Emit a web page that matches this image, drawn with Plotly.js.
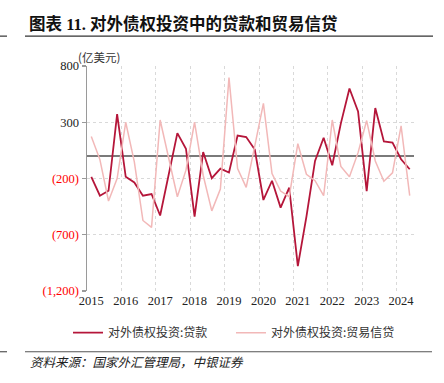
<!DOCTYPE html>
<html>
<head>
<meta charset="utf-8">
<script src="https://cdn.plot.ly/plotly-3.0.1.min.js"></script>
<style>
html,body{margin:0;padding:0;background:#fff;}
#chart{width:444px;height:383px;}
</style>
</head>
<body>
<div id="chart"></div>
<script>
// Quarterly, 2015Q1 - 2024Q2 (亿美元)
const quarters = ["2015Q1","2015Q2","2015Q3","2015Q4","2016Q1","2016Q2","2016Q3","2016Q4",
  "2017Q1","2017Q2","2017Q3","2017Q4","2018Q1","2018Q2","2018Q3","2018Q4",
  "2019Q1","2019Q2","2019Q3","2019Q4","2020Q1","2020Q2","2020Q3","2020Q4",
  "2021Q1","2021Q2","2021Q3","2021Q4","2022Q1","2022Q2","2022Q3","2022Q4",
  "2023Q1","2023Q2","2023Q3","2023Q4","2024Q1","2024Q2"];
const loans = [-185,-353,-309,373,-185,-235,-353,-338,
  -529,-170,203,65,-538,35,-197,-112,
  -147,182,168,58,-391,-220,-459,-282,
  -979,-538,-44,162,-82,290,600,397,
  -312,426,129,120,-29,-118];
const tradeCredit = [173,-32,-400,-200,300,-53,-573,-635,
  320,-20,-362,-126,300,-171,-488,-294,
  697,-112,-279,90,467,-156,-312,-362,
  109,-162,-220,-353,320,-93,-185,30,
  315,-44,-224,-150,268,-353];
const yearLabels = ["2015","2016","2017","2018","2019","2020","2021","2022","2023","2024"];
const yTickVals = [800,300,-200,-700,-1200];
const yTickText = ["800","300","(200)","(700)","(1,200)"];

const xIdx = quarters.map((q,i)=>i);
const yearTickVals = yearLabels.map((y,i)=>i*4);
const yearBounds = yearLabels.map((y,i)=>i*4-0.5).concat([quarters.length-0.5]);

const serif = "Liberation Serif, Noto Sans CJK SC, serif";
const cjk = "Noto Sans CJK SC, Liberation Serif, sans-serif";

const traces = [
  {x:xIdx, y:loans, type:'scatter', mode:'lines', name:'对外债权投资:贷款',
   line:{color:'#B5163A', width:1.8}},
  {x:xIdx, y:tradeCredit, type:'scatter', mode:'lines', name:'对外债权投资:贸易信贷',
   line:{color:'#F2B8B8', width:1.5}}
];

const layout = {
  width:444, height:383,
  margin:{l:87, r:30, t:65.5, b:91.5, pad:0},
  paper_bgcolor:'#fff', plot_bgcolor:'#fff',
  showlegend:true,
  legend:{orientation:'h', x:(68-87)/327, xanchor:'left', y:-0.185, yanchor:'middle',
    font:{family:cjk, size:12, color:'#333'}, entrywidth:118, entrywidthmode:'pixels',
    bgcolor:'rgba(0,0,0,0)', tracegroupgap:0},
  xaxis:{range:[-0.5, quarters.length-0.5], tickmode:'array', tickvals:yearTickVals, ticktext:yearLabels,
    showgrid:false, zeroline:false, showline:false, ticks:'',
    tickfont:{family:serif, size:12.5, color:'#222'},
    minor:{tickmode:'array', tickvals:yearBounds, showgrid:true, gridcolor:'#d9d9d9', griddash:'dot', gridwidth:1, ticks:''}},
  yaxis:{range:[-1200,800], tickmode:'array', tickvals:yTickVals,
    ticktext:yTickText.map((t,i)=> yTickVals[i]<0 ? '<span style="color:#FF0000">'+t+'</span>' : t),
    showgrid:true, gridcolor:'#d9d9d9', griddash:'dot', gridwidth:1,
    zeroline:true, zerolinecolor:'#7a7a7a', zerolinewidth:1.5,
    showline:true, linecolor:'#9a9a9a', linewidth:1.5,
    ticks:'outside', ticklen:4, tickcolor:'#9a9a9a', tickwidth:1.2,
    tickfont:{family:serif, size:12.5, color:'#222'}},
  shapes:[
    {type:'line', xref:'paper', yref:'paper', x0:(25-87)/327, x1:(433-87)/327, y0:(291.5-35.5)/226, y1:(291.5-35.5)/226, line:{color:'#333', width:1.2}},
    {type:'line', xref:'paper', yref:'paper', x0:(0-87)/327, x1:(7-87)/327, y0:(291.5-35.5)/226, y1:(291.5-35.5)/226, line:{color:'#333', width:1.2}},
    {type:'line', xref:'paper', yref:'paper', x0:(25-87)/327, x1:(432-87)/327, y0:(291.5-352.5)/226, y1:(291.5-352.5)/226, line:{color:'#555', width:1.2}},
    {type:'line', xref:'paper', yref:'paper', x0:(0-87)/327, x1:(7-87)/327, y0:(291.5-352.5)/226, y1:(291.5-352.5)/226, line:{color:'#555', width:1.2}}
  ],
  annotations:[
    {text:'<b>图表 11. 对外债权投资中的贷款和贸易信贷</b>', xref:'paper', yref:'paper',
     x:(27-87)/327, y:(291.5-23)/226, xanchor:'left', yanchor:'middle', showarrow:false,
     font:{family:"Liberation Serif, Noto Sans CJK SC", size:16.5, color:'#111'}},
    {text:'(亿美元)', xref:'paper', yref:'paper', x:(76-87)/327, y:(291.5-56)/226,
     xanchor:'left', yanchor:'middle', showarrow:false,
     font:{family:cjk, size:11.5, color:'#333'}},
    {text:'<i>资料来源：国家外汇管理局，中银证券</i>', xref:'paper', yref:'paper', x:(28-87)/327, y:(291.5-362)/226,
     xanchor:'left', yanchor:'middle', showarrow:false,
     font:{family:cjk, size:12.5, color:'#222'}}
  ]
};

Plotly.newPlot('chart', traces, layout, {displayModeBar:false, staticPlot:true});
</script>
</body>
</html>
